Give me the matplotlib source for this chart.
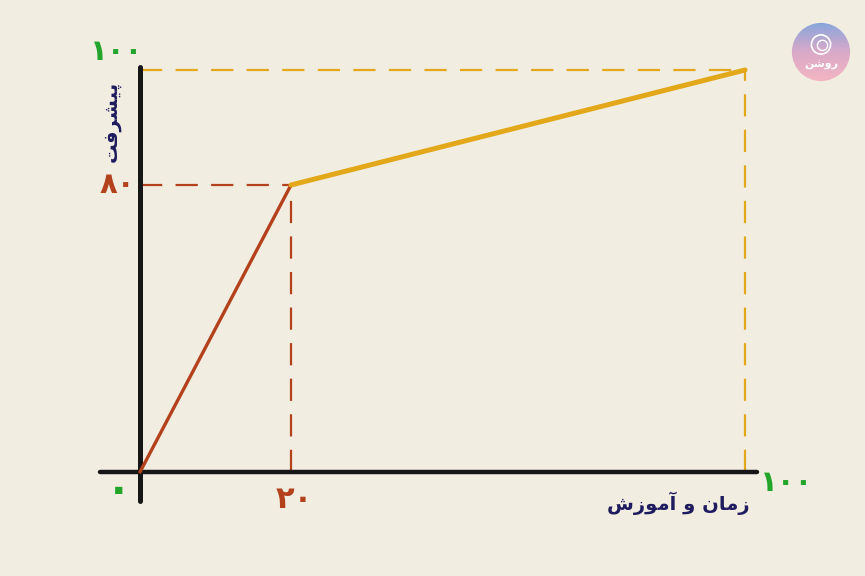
import numpy as np
import matplotlib
matplotlib.use("Agg")
import matplotlib.pyplot as plt
from matplotlib.patches import Circle

# data: learning curve (time & training vs progress)
curve_x = [0, 20, 100]
curve_y = [0, 80, 100]
x_ticks = [0, 20, 100]
x_tick_labels = ["۰", "۲۰", "۱۰۰"]
y_ticks = [80, 100]
y_tick_labels = ["۸۰", "۱۰۰"]
# Persian labels written in visual order with presentation forms (matplotlib has no shaping)
x_title = "\uFEB5\uFEAF\uFEEE\uFEE3\uFE81 \uFEED \uFEE5\uFE8E\uFEE3\uFEAF"   # زمان و آموزش
y_title = "\uFE96\uFED3\uFEAE\uFEB8\uFBFF\uFB58"                            # پیشرفت
logo_text = "\uFEE6\uFEB7\uFEED\uFEAD"                                      # روشن

BG = "#f2ede1"
RED = "#b3421c"
GOLD = "#e2a81a"
GREEN = "#22a52a"
NAVY = "#1e1b5e"
INK = "#161616"

W, H = 865, 576
fig = plt.figure(figsize=(W / 100, H / 100), dpi=100)
fig.patch.set_facecolor(BG)
ax = fig.add_axes([0, 0, 1, 1])
ax.set_facecolor(BG)

# the sketch is not to scale: piecewise axes, pixel positions per knot
xk_val, xk_px = [-60, 0, 20, 100, 200], [140 - 60 * 7.55, 140, 291, 745, 745 + 100 * 5.675]
yk_val, yk_px = [-60, 0, 80, 100, 160], [104 - 60 * 3.5875, 104, 391, 506, 506 + 60 * 5.75]
ax.set_xscale("function", functions=(lambda v: np.interp(v, xk_val, xk_px),
                                     lambda p: np.interp(p, xk_px, xk_val)))
ax.set_yscale("function", functions=(lambda v: np.interp(v, yk_val, yk_px),
                                     lambda p: np.interp(p, yk_px, yk_val)))
ax.set_xlim(np.interp(0, xk_px, xk_val), np.interp(W, xk_px, xk_val))
ax.set_ylim(np.interp(0, yk_px, yk_val), np.interp(H, yk_px, yk_val))
ax.axis("off")

# guide lines
ax.plot([0, curve_x[1]], [curve_y[1]] * 2, color=RED, lw=1.6, ls=(0, (10, 6)))
ax.plot([curve_x[1]] * 2, [0, curve_y[1]], color=RED, lw=1.6, ls=(0, (10, 6)))
ax.plot([0, curve_x[2]], [curve_y[2]] * 2, color=GOLD, lw=1.6, ls=(0, (10, 6)))
ax.plot([curve_x[2]] * 2, [0, curve_y[2]], color=GOLD, lw=1.6, ls=(0, (10, 6)))

# hand-drawn axes
ax.plot([-5.3, 102.1], [0, 0], color=INK, lw=3.2, solid_capstyle="round", zorder=3)
ax.plot([0, 0], [-8.1, 100.5], color=INK, lw=3.6, solid_capstyle="round", zorder=3)

# curve
ax.plot(curve_x[:2], curve_y[:2], color=RED, lw=2.4, solid_capstyle="round", zorder=4)
ax.plot(curve_x[1:], curve_y[1:], color=GOLD, lw=3.6, solid_capstyle="round", zorder=4)

# tick labels
fam = ["DejaVu Sans"]
ax.text(-2.8, -5.0, x_tick_labels[0], color=GREEN, fontsize=30, fontweight="bold",
        ha="center", va="center", family=fam)
ax.text(20.6, -7.8, x_tick_labels[1], color=RED, fontsize=22, fontweight="bold",
        ha="center", va="center", family=fam)
ax.text(107.3, -3.0, x_tick_labels[2], color=GREEN, fontsize=21, fontweight="bold",
        ha="center", va="center", family=fam)
ax.text(-3.0, y_ticks[0], y_tick_labels[0], color=RED, fontsize=21, fontweight="bold",
        ha="center", va="center", family=fam)
ax.text(-3.1, y_ticks[1] + 3.1, y_tick_labels[1], color=GREEN, fontsize=21, fontweight="bold",
        ha="center", va="center", family=fam)

# axis titles
ax.text(88.2, -8.6, x_title, color=NAVY, fontsize=14, fontweight="bold",
        ha="center", va="center", family=fam)
ax.text(-3.8, 91.1, y_title, color=NAVY, fontsize=14, fontweight="bold", rotation=90,
        ha="center", va="center", family=fam)

# logo badge, top right
lax = fig.add_axes([(821 - 30) / W, 1 - (52 + 30) / H, 60 / W, 60 / H])
lax.set_xlim(-1, 1); lax.set_ylim(-1, 1); lax.axis("off")
grad = np.linspace(0, 1, 256).reshape(-1, 1)
cmap = matplotlib.colors.LinearSegmentedColormap.from_list("badge", ["#f4b6c2", "#d9a9c8", "#86a6dc"])
img = lax.imshow(grad, extent=(-1, 1, -1, 1), origin="lower", cmap=cmap, aspect="auto")
img.set_clip_path(Circle((0, 0), 0.97, transform=lax.transData))
lax.add_patch(Circle((0, 0.25), 0.32, fc="none", ec="white", lw=1.2))
lax.add_patch(Circle((0.05, 0.22), 0.17, fc="none", ec="white", lw=1.0))
lax.text(0, -0.42, logo_text, color="white", fontsize=8, fontweight="bold",
         ha="center", va="center", family=fam)

fig.savefig("out.png", dpi=100, facecolor=BG)
